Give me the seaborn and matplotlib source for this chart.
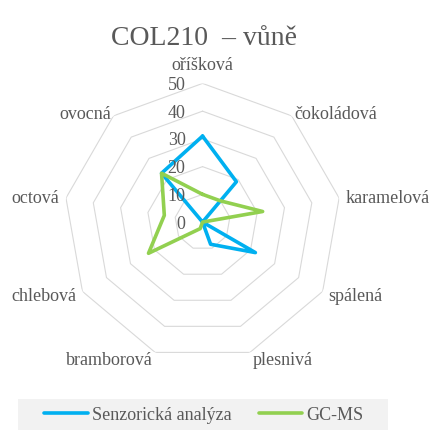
import numpy as np
import pandas as pd
import seaborn as sns
import matplotlib.pyplot as plt
from matplotlib.patches import Rectangle
from matplotlib.transforms import offset_copy

categories = ['oříšková', 'čokoládová', 'karamelová', 'spálená', 'plesnivá',
              'bramborová', 'chlebová', 'octová', 'ovocná']
senzoricka = [31, 19, 0, 22, 8.5, 0, 0, 0, 23]
gcms = [10, 10, 22, 0, 0, 2.5, 22.5, 14, 23]
series_names = ['Senzorická analýza', 'GC-MS']
ring_values = [10, 20, 30, 40, 50]

###
def prepareData():
    n = len(categories)
    angles = list(np.linspace(0, 2 * np.pi, n, endpoint=False))
    closed = angles + [2 * np.pi]
    rows = []
    for name, vals in zip(series_names, [senzoricka, gcms]):
        for a, v in zip(closed, vals + vals[:1]):
            rows.append({'theta': a, 'r': v, 'serie': name})
    return angles, closed, pd.DataFrame(rows)

###
def plotRadar():
    sns.set_theme(style='white')
    plt.rcParams['font.family'] = ['Liberation Serif', 'DejaVu Serif']
    gray = '#595959'

    fig = plt.figure(figsize=(4.37, 4.30), dpi=100)
    ax = fig.add_axes([0.146, 0.161, 0.635, 0.645], projection='polar')
    ax.set_theta_zero_location('N')
    ax.set_theta_direction(-1)

    # 9-gon rings instead of circles
    for v in ring_values:
        ax.plot(closed, [v] * len(closed), color='#d9d9d9', lw=0.8, zorder=1)

    sns.lineplot(data=df, x='theta', y='r', hue='serie', sort=False, estimator=None,
                 palette={'Senzorická analýza': '#00b0f0', 'GC-MS': '#92d050'},
                 lw=2.6, ax=ax, zorder=3)

    ax.set_ylim(0, 50)
    ax.grid(False)
    ax.spines['polar'].set_visible(False)
    ax.set_xticks([])
    ax.set_yticks([])
    ax.set_xlabel('')
    ax.set_ylabel('')

    lab_tr = offset_copy(ax.transData, fig=fig, x=0, y=-2, units='dots')
    for a, lab in zip(angles, categories):
        s, c = np.sin(a), np.cos(a)
        if abs(s) < 0.1:
            ha, va, r = 'center', 'bottom', 54
        elif s > 0:
            ha, va, r = 'left', 'center', 52.5
        else:
            ha, va, r = 'right', 'center', 52.5
        if c > 0.5 and abs(s) > 0.1:
            r = 51.5
        ax.text(a, r, lab, ha=ha, va=va, fontsize=13, color=gray, transform=lab_tr)

    tr = offset_copy(ax.transData, fig=fig, x=-17, y=-2, units='dots')
    for v in [0] + ring_values:
        ax.text(0, v, str(v), transform=tr, ha='right', va='center', fontsize=13, color=gray)

    fig.text(0.466, 0.91, 'COL210  – vůně', ha='center', va='center', fontsize=20, color=gray)

    handles, labels = ax.get_legend_handles_labels()
    ax.get_legend().remove()
    fig.patches.append(Rectangle((18 / 437, 0), 370 / 437, 31 / 430, transform=fig.transFigure,
                                 facecolor='#f2f2f2', edgecolor='none', zorder=0))
    fig.legend(handles, labels, loc='center', bbox_to_anchor=(204 / 437, 15 / 430), ncol=2,
               frameon=False, fontsize=13, handlelength=2.4, handletextpad=0.25,
               columnspacing=1.5, labelcolor=gray)

    fig.savefig('out.png', dpi=100)

###
if __name__ == '__main__':
    angles, closed, df = prepareData()
    plotRadar()
